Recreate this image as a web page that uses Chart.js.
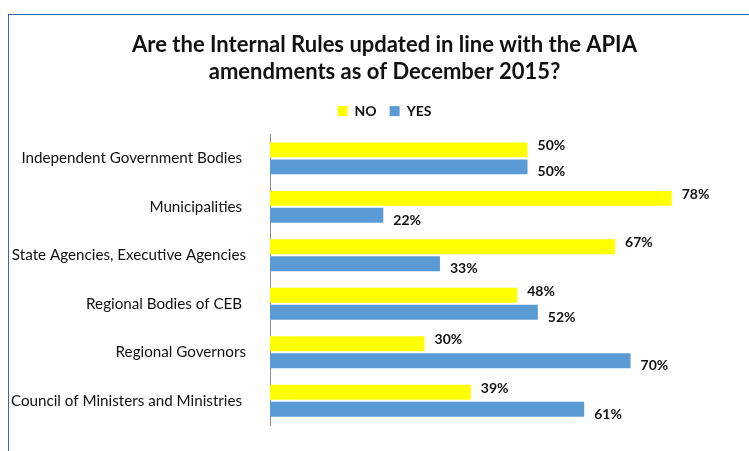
<!DOCTYPE html>
<html>
<head>
<meta charset="utf-8">
<script src="https://cdn.jsdelivr.net/npm/chart.js@4.4.1/dist/chart.umd.min.js"></script>
<style>
  html, body { margin: 0; padding: 0; background: #fff; overflow: hidden; }
  #wrap { position: relative; width: 749px; height: 451px; }
  #frame {
    position: absolute; left: 8px; top: 14px; right: -4px; bottom: -4px;
    border-left: 1.5px solid #3567a8; border-top: 1.5px solid #3567a8;
  }
  canvas { position: absolute; left: 0; top: 0; }
</style>
</head>
<body>
<div id="wrap">
  <div id="frame"></div>
  <canvas id="rulesChart" width="749" height="451"></canvas>
</div>
<script>
// Catégories (ordre d'affichage de haut en bas)
const categories = [
  "Independent Government Bodies ",
  "Municipalities ",
  "State Agencies, Executive Agencies",
  "Regional Bodies of CEB ",
  "Regional Governors",
  "Council of Ministers and Ministries "
];
const noValues = [50, 78, 67, 48, 30, 39];
const yesValues = [50, 22, 33, 52, 70, 61];

const FONT = "Lato, 'Open Sans', sans-serif";

// Étiquettes de valeur en gras à droite de chaque barre
const valueLabels = {
  id: 'valueLabels',
  afterDatasetsDraw(chart) {
    const ctx = chart.ctx;
    ctx.save();
    ctx.font = "bold 14px " + FONT;
    ctx.fillStyle = '#111';
    ctx.textBaseline = 'middle';
    ctx.textAlign = 'left';
    chart.data.datasets.forEach((ds, di) => {
      const meta = chart.getDatasetMeta(di);
      const dy = di === 0 ? -4 : 5;
      meta.data.forEach((bar, i) => {
        ctx.fillText(ds.data[i] + '%', bar.x + 10, bar.y + dy);
      });
    });
    ctx.restore();
  }
};

// Un peu plus d'espace sous la légende
const legendSpacing = {
  id: 'legendSpacing',
  beforeInit(chart) {
    const origFit = chart.legend.fit;
    chart.legend.fit = function () {
      origFit.bind(chart.legend)();
      this.height += 6;
    };
  }
};

const ctx = document.getElementById('rulesChart').getContext('2d');
new Chart(ctx, {
  type: 'bar',
  data: {
    labels: categories,
    datasets: [
      {
        label: 'NO',
        data: noValues,
        backgroundColor: '#FFFF00',
        categoryPercentage: 0.7,
        barPercentage: 0.88
      },
      {
        label: 'YES',
        data: yesValues,
        backgroundColor: '#5B9BD5',
        categoryPercentage: 0.7,
        barPercentage: 0.88
      }
    ]
  },
  options: {
    indexAxis: 'y',
    responsive: false,
    animation: false,
    // padding droit négatif : décale le titre et la légende vers la droite
    layout: { padding: { top: 31, bottom: 26, left: 8, right: -12 } },
    plugins: {
      title: {
        display: true,
        text: ["Are the Internal Rules updated in line with the APIA", "amendments as of December 2015?"],
        color: '#111',
        font: { family: FONT, size: 22, weight: 'bold', lineHeight: 1.23 },
        padding: { top: 0, bottom: 6 }
      },
      legend: {
        display: true,
        position: 'top',
        labels: {
          boxWidth: 10,
          boxHeight: 10,
          padding: 13,
          color: '#111',
          font: { family: FONT, size: 14, weight: 'bold' }
        }
      },
      tooltip: { enabled: false }
    },
    scales: {
      x: {
        display: false,
        min: 0,
        max: 93
      },
      y: {
        grid: { display: false },
        border: { display: true, color: '#8c8c8c', width: 1 },
        ticks: {
          color: '#111',
          padding: 16,
          font: { family: FONT, size: 15.2 }
        },
        afterFit(scale) { scale.width = 262; }
      }
    }
  },
  plugins: [valueLabels, legendSpacing]
});
</script>
</body>
</html>
